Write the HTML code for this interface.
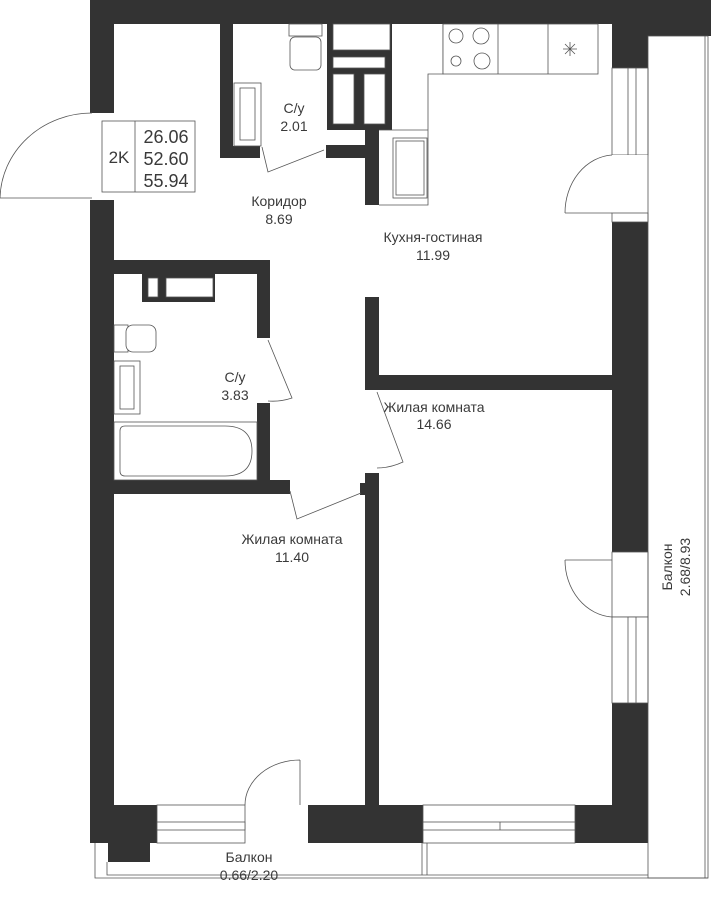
<!DOCTYPE html>
<html><head><meta charset="utf-8"><style>
html,body{margin:0;padding:0;background:#fff;}
svg{display:block;}
text{font-family:"Liberation Sans",sans-serif;fill:#3a3a3a;font-size:14px;text-anchor:middle;}
</style></head><body>
<svg width="711" height="900" viewBox="0 0 711 900" xmlns="http://www.w3.org/2000/svg">
<g fill="#333">
<rect x="90" y="0" width="621" height="24"/>
<rect x="612" y="24" width="36" height="44"/>
<rect x="648" y="24" width="63" height="12"/>
<rect x="90" y="0" width="24" height="113"/>
<rect x="90" y="200" width="24" height="643"/>
<rect x="220" y="24" width="13" height="134"/>
<rect x="220" y="146" width="40" height="12"/>
<rect x="327" y="24" width="65" height="106"/>
<rect x="326" y="145" width="41" height="13"/>
<rect x="365" y="130" width="14" height="75"/>
<rect x="612" y="222" width="36" height="330"/>
<rect x="612" y="703" width="36" height="140"/>
<rect x="365" y="375" width="247" height="15"/>
<rect x="365" y="297" width="14" height="93"/>
<rect x="365" y="473" width="14" height="332"/>
<rect x="360" y="483" width="8" height="12"/>
<rect x="114" y="260" width="156" height="14"/>
<rect x="257" y="260" width="13" height="78"/>
<rect x="257" y="403" width="13" height="77"/>
<rect x="114" y="480" width="176" height="14"/>
<rect x="142" y="274" width="73" height="28"/>
<rect x="90" y="805" width="67" height="38"/>
<rect x="108" y="843" width="42" height="19"/>
<rect x="308" y="805" width="115" height="38"/>
<rect x="575" y="805" width="73" height="38"/>
</g>
<g fill="#fff" stroke="#555" stroke-width="0.8">
<rect x="333" y="24" width="57" height="26"/>
<rect x="333" y="57" width="52" height="11"/>
<rect x="333" y="74" width="21" height="50"/>
<rect x="364" y="74" width="21" height="50"/>
<rect x="327" y="130" width="38" height="15" stroke="none"/>
<rect x="148" y="278" width="10" height="19"/>
<rect x="166" y="278" width="47" height="19"/>
<rect x="114" y="274" width="28" height="30" stroke="none"/>
<rect x="102" y="121" width="93" height="71"/>
<line x1="135" y1="121" x2="135" y2="192"/>
<polyline points="379,205 428,205 428,74 443,74 443,24" fill="none"/>
<line x1="379" y1="130" x2="428" y2="130"/>
<rect x="443" y="24" width="155" height="50"/>
<line x1="498" y1="24" x2="498" y2="74"/>
<line x1="548" y1="24" x2="548" y2="74"/>
<circle cx="456" cy="36" r="7" fill="none"/>
<circle cx="481" cy="36" r="8" fill="none"/>
<circle cx="456" cy="61" r="5" fill="none"/>
<circle cx="482" cy="61" r="8" fill="none"/>
<path d="M570 42V56M563 49H577M565 44L575 54M575 44L565 54" fill="none"/>
<rect x="393" y="138" width="34" height="60"/>
<rect x="396" y="141" width="28" height="54"/>
<rect x="289" y="24" width="33" height="12"/>
<rect x="290" y="37" width="31" height="33" rx="5"/>
<rect x="234" y="83" width="27" height="63"/>
<rect x="240" y="88" width="15" height="52"/>
<rect x="114" y="325" width="14" height="27"/>
<rect x="126" y="325" width="30" height="27" rx="7"/>
<rect x="114" y="361" width="26" height="53"/>
<rect x="120" y="366" width="14" height="43"/>
<rect x="114" y="422" width="143" height="58"/>
<path d="M125 426H225Q252 426 252 451Q252 476 225 476H125Q120 476 120 471V431Q120 426 125 426Z"/>
<rect x="612" y="68" width="36" height="87"/>
<rect x="628" y="68" width="8" height="87"/>
<rect x="612" y="552" width="36" height="65"/>
<rect x="612" y="617" width="36" height="86"/>
<rect x="628" y="617" width="8" height="86"/>
<rect x="612" y="155" width="36" height="67" stroke="none"/>
<rect x="612" y="213" width="36" height="9"/>
<rect x="157" y="805" width="88" height="38"/>
<rect x="157" y="822" width="88" height="8"/>
<rect x="423" y="805" width="152" height="38"/>
<rect x="423" y="822" width="152" height="8"/>
<line x1="500" y1="822" x2="500" y2="830"/>
<rect x="648" y="36" width="60" height="842" fill="none"/>
<line x1="705" y1="36" x2="705" y2="878"/>
<polyline points="95,843 95,878 708,878" fill="none"/>
<polyline points="107,862 107,875 648,875" fill="none"/>
<line x1="422" y1="843" x2="422" y2="875"/>
<line x1="427" y1="843" x2="427" y2="875"/>
<path d="M0 198H92M0 198A92 87 0 0 1 92 113" fill="none"/>
<path d="M612 213H565M565 213A50 58 0 0 1 612 155" fill="none"/>
<path d="M612 560H565M565 560A50 57 0 0 0 612 617" fill="none"/>
<path d="M300 805V760M245 805A55 45 0 0 1 300 760" fill="none"/>
<path d="M262 147L268 172L324 150" fill="none"/>
<path d="M268 340L292 398Q280 402 268 401" fill="none"/>
<path d="M377 392L403 462Q390 468 377 468" fill="none"/>
<path d="M290 491L297 519L361 493" fill="none"/>
</g>
<text x="119" y="163" style="font-size:17px">2K</text>
<text x="166" y="143" style="font-size:18px">26.06</text>
<text x="166" y="165" style="font-size:18px">52.60</text>
<text x="166" y="187" style="font-size:18px">55.94</text>
<text x="294" y="113">С/у</text>
<text x="294" y="131">2.01</text>
<text x="279" y="206">Коридор</text>
<text x="279" y="224">8.69</text>
<text x="433" y="242">Кухня-гостиная</text>
<text x="433" y="260">11.99</text>
<text x="235" y="382">С/у</text>
<text x="235" y="400">3.83</text>
<text x="434" y="412">Жилая комната</text>
<text x="434" y="429">14.66</text>
<text x="292" y="544">Жилая комната</text>
<text x="292" y="562">11.40</text>
<text x="249" y="862">Балкон</text>
<text x="249" y="880">0.66/2.20</text>
<text transform="translate(672,567) rotate(-90)">Балкон</text>
<text transform="translate(690,567) rotate(-90)">2.68/8.93</text>
</svg>
</body></html>
